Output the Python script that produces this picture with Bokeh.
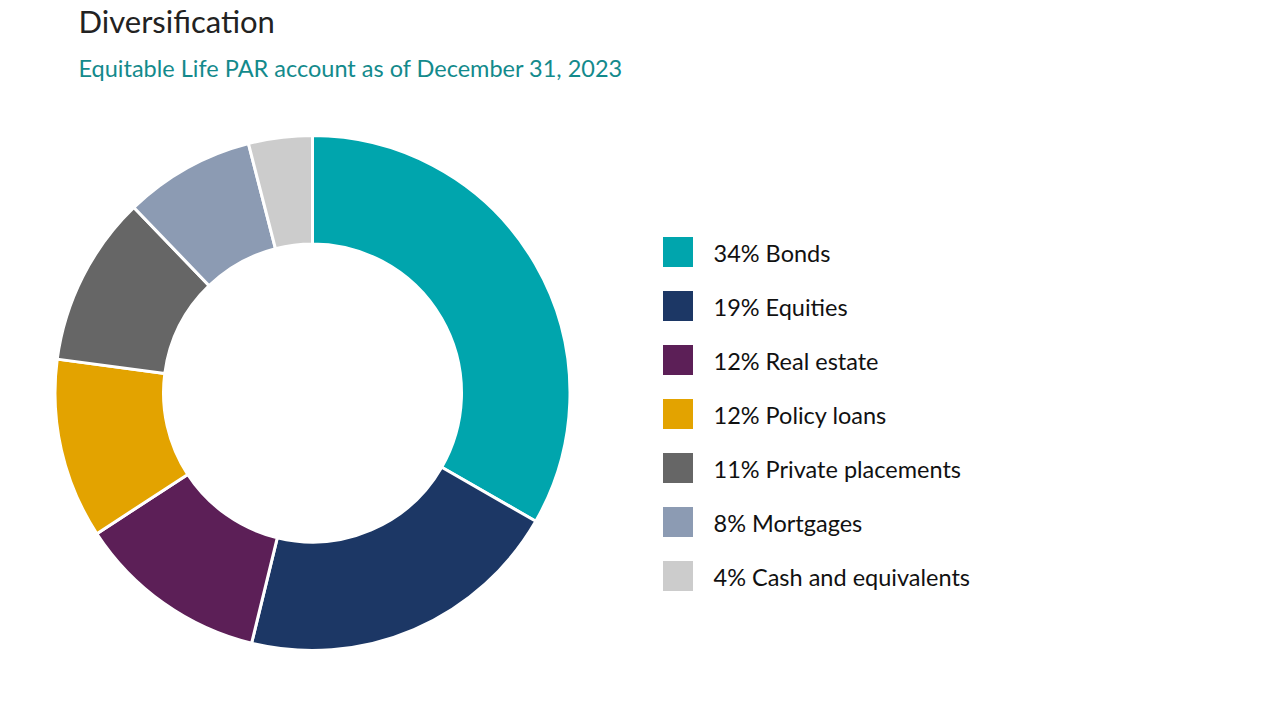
import math
from bokeh.plotting import figure
from bokeh.models import Range1d, ColumnDataSource
from bokeh.core.properties import value
from bokeh.embed import file_html
from bokeh.resources import INLINE

categories = ["Bonds", "Equities", "Real estate", "Policy loans",
              "Private placements", "Mortgages", "Cash and equivalents"]
percents = [34, 19, 12, 12, 11, 8, 4]               # legend labels
shares = [33.3, 20.5, 12.0, 11.3, 10.7, 8.2, 4.0]   # wedge sizes as drawn
colors = ["#00a5ad", "#1c3765", "#5c1f57", "#e3a300", "#666666", "#8c9bb3", "#cccccc"]
title_text = "Diversification"
subtitle_text = "Equitable Life PAR account as of December 31, 2023"

W, H = 1254, 689
p = figure(width=W, height=H, output_backend="svg", toolbar_location=None,
           x_range=Range1d(0, W), y_range=Range1d(0, H),
           x_axis_location=None, y_axis_location=None, min_border=0,
           tools="")
p.grid.visible = False
p.outline_line_color = None
p.background_fill_color = "white"

def Y(py):  # page y -> data y
    return H - py

def X(px):
    return px

def TB(py, fs):  # text baseline correction
    return Y(py) + 0.42 * fs

# donut
total = sum(shares)
starts, ends = [], []
cum = 0.0
for v in shares:
    starts.append(math.pi / 2 - cum / total * 2 * math.pi)
    cum += v
    ends.append(math.pi / 2 - cum / total * 2 * math.pi)

src = ColumnDataSource(dict(start=starts, end=ends, color=colors))
p.annular_wedge(x=X(312), y=Y(392.5), inner_radius=149, outer_radius=257.5,
                start_angle="start", end_angle="end", direction="clock",
                fill_color="color", line_color="white", line_width=3, source=src)

# titles
p.text(x=[X(78)], y=[TB(34, 31)], text=[title_text], text_font=value("Lato"),
       text_font_size="31px", text_color="#222222", text_baseline="alphabetic")
p.text(x=[X(78)], y=[TB(77, 23.5)], text=[subtitle_text], text_font=value("Lato"),
       text_font_size="23.5px", text_color="#138a8c", text_baseline="alphabetic")

# legend
row_y = [251.5 + i * 54 for i in range(len(categories))]
labels = [f"{v}% {c}" for v, c in zip(percents, categories)]
lsrc = ColumnDataSource(dict(x=[X(677.5)] * len(categories), y=[Y(r) for r in row_y],
                             tx=[X(713)] * len(categories),
                             ty=[TB(r + 10.5, 23.5) for r in row_y],
                             label=labels, color=colors))
p.rect(x="x", y="y", width=30, height=30, fill_color="color", line_color=None, source=lsrc)
p.text(x="tx", y="ty", text="label", text_font=value("Lato"), text_font_size="23.5px",
       text_color="#111111", text_baseline="alphabetic", source=lsrc)

open("out.html", "w").write(file_html(p, INLINE))
